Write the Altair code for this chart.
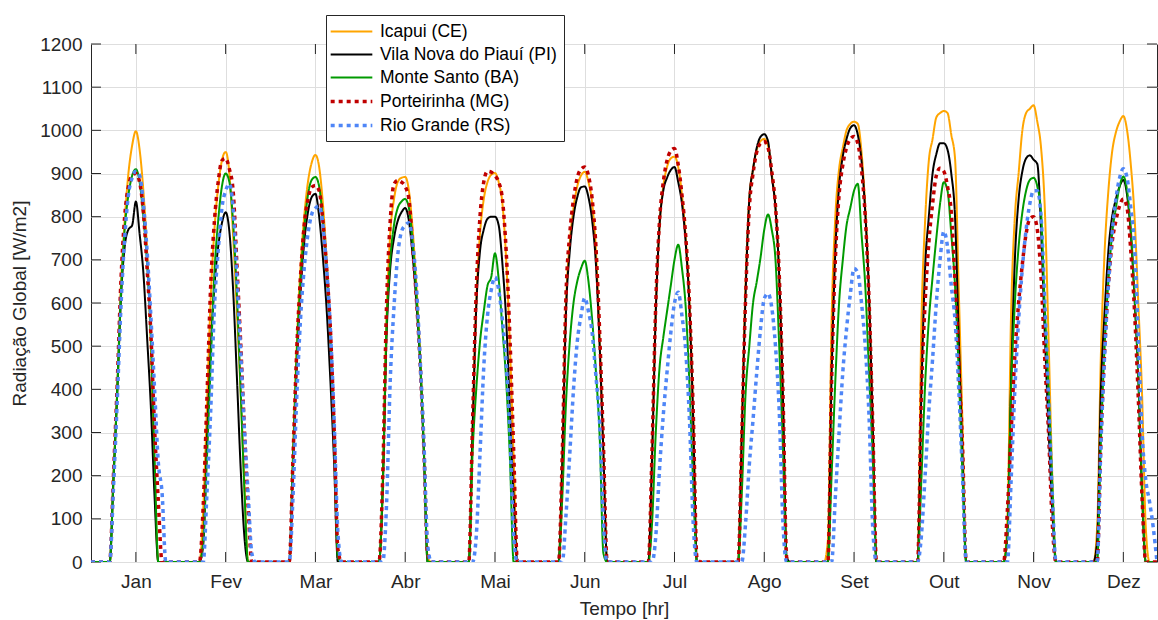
import altair as alt
import pandas as pd

months = ["Jan", "Fev", "Mar", "Abr", "Mai", "Jun", "Jul", "Ago", "Set", "Out", "Nov", "Dez"]
series_names = ["Icapui (CE)", "Vila Nova do Piauí (PI)", "Monte Santo (BA)",
                "Porteirinha (MG)", "Rio Grande (RS)"]
series_colors = ["#FFA500", "#000000", "#009A00", "#C00000", "#4F86F7"]
series_dash = [[1, 0], [1, 0], [1, 0], [4, 4], [4, 4]]
series_width = [2, 2, 2, 3.5, 3.5]

# hourly values of a typical day of each month, hours 5..20 (other hours = 0)
first_hour = 5
icapui = [
    [0, 200, 400, 640, 790, 900, 965, 998, 955, 860, 720, 500, 200, 0, 0, 0],
    [0, 120, 360, 610, 770, 870, 930, 950, 900, 755, 580, 395, 180, 0, 0, 0],
    [0, 250, 500, 680, 800, 880, 925, 943, 915, 830, 700, 540, 300, 20, 0, 0],
    [0, 180, 560, 760, 840, 880, 890, 892, 860, 770, 640, 480, 260, 10, 0, 0],
    [0, 300, 600, 760, 840, 880, 897, 901, 880, 830, 700, 500, 240, 0, 0, 0],
    [0, 240, 600, 740, 820, 870, 895, 904, 880, 830, 720, 510, 250, 0, 0, 0],
    [0, 250, 590, 780, 870, 915, 935, 939, 915, 850, 750, 600, 340, 0, 0, 0],
    [0, 320, 640, 840, 910, 955, 975, 980, 965, 900, 820, 660, 380, 0, 0, 0],
    [50, 560, 800, 910, 960, 1000, 1015, 1020, 1015, 950, 820, 620, 320, 0, 0, 0],
    [0, 550, 790, 930, 980, 1030, 1040, 1045, 1040, 990, 935, 630, 320, 0, 0, 0],
    [100, 580, 800, 900, 1000, 1040, 1050, 1058, 1020, 960, 820, 520, 200, 0, 0, 0],
    [80, 480, 720, 860, 950, 995, 1020, 1033, 1000, 920, 800, 600, 390, 80, 0, 0],
]
vila_nova = [
    [0, 190, 390, 610, 730, 770, 780, 835, 760, 670, 520, 360, 150, 0, 0, 0],
    [0, 40, 280, 490, 640, 730, 785, 810, 765, 630, 430, 220, 60, 0, 0, 0],
    [0, 220, 450, 620, 740, 810, 845, 853, 800, 705, 585, 420, 230, 0, 0, 0],
    [0, 170, 520, 680, 750, 790, 810, 820, 790, 710, 600, 460, 250, 0, 0, 0],
    [0, 300, 590, 720, 770, 795, 800, 800, 780, 690, 560, 350, 150, 0, 0, 0],
    [0, 230, 580, 720, 800, 845, 868, 870, 845, 790, 690, 500, 250, 0, 0, 0],
    [0, 240, 580, 780, 860, 890, 908, 915, 880, 830, 740, 590, 330, 0, 0, 0],
    [0, 300, 620, 840, 910, 960, 985, 991, 975, 895, 820, 660, 380, 10, 0, 0],
    [0, 430, 720, 870, 940, 980, 1005, 1012, 990, 930, 810, 620, 320, 0, 0, 0],
    [0, 390, 680, 800, 900, 945, 970, 970, 955, 900, 800, 520, 240, 0, 0, 0],
    [60, 420, 700, 840, 905, 935, 942, 932, 922, 770, 530, 310, 120, 0, 0, 0],
    [50, 400, 580, 720, 800, 840, 870, 885, 850, 760, 610, 430, 160, 0, 0, 0],
]
monte_santo = [
    [0, 190, 390, 620, 770, 850, 895, 910, 880, 800, 690, 520, 240, 0, 0, 0],
    [0, 50, 240, 460, 670, 790, 870, 900, 880, 785, 620, 400, 170, 0, 0, 0],
    [0, 240, 480, 650, 770, 850, 885, 892, 870, 790, 670, 520, 290, 10, 0, 0],
    [0, 180, 540, 700, 780, 820, 835, 841, 820, 740, 620, 470, 260, 0, 0, 0],
    [0, 250, 400, 510, 580, 640, 660, 715, 655, 540, 420, 240, 0, 0, 0, 0],
    [0, 150, 370, 510, 600, 650, 680, 698, 650, 560, 440, 290, 20, 0, 0, 0],
    [0, 90, 300, 450, 520, 580, 640, 700, 735, 680, 590, 410, 180, 0, 0, 0],
    [0, 160, 390, 500, 600, 650, 705, 770, 805, 770, 700, 500, 260, 0, 0, 0],
    [0, 200, 420, 600, 700, 780, 820, 860, 876, 760, 640, 440, 240, 0, 0, 0],
    [0, 190, 410, 560, 660, 750, 830, 880, 860, 760, 640, 440, 200, 0, 0, 0],
    [60, 400, 600, 730, 810, 860, 885, 890, 870, 810, 590, 400, 180, 0, 0, 0],
    [0, 280, 500, 650, 760, 820, 870, 893, 860, 770, 620, 430, 170, 0, 0, 0],
]
porteirinha = [
    [0, 200, 410, 650, 800, 870, 895, 900, 880, 810, 680, 530, 310, 140, 0, 0],
    [0, 130, 380, 640, 790, 880, 930, 935, 910, 860, 690, 510, 310, 130, 0, 0],
    [0, 240, 490, 660, 780, 840, 868, 872, 860, 790, 680, 540, 310, 30, 0, 0],
    [0, 200, 590, 790, 875, 884, 880, 870, 840, 730, 610, 460, 260, 20, 0, 0],
    [0, 320, 630, 800, 880, 905, 903, 895, 880, 840, 720, 520, 260, 0, 0, 0],
    [0, 250, 620, 760, 840, 890, 910, 915, 895, 840, 730, 530, 270, 0, 0, 0],
    [0, 260, 600, 790, 880, 930, 952, 958, 920, 850, 755, 600, 350, 10, 0, 0],
    [0, 290, 610, 820, 900, 950, 970, 974, 960, 905, 825, 665, 390, 10, 0, 0],
    [0, 420, 700, 850, 920, 960, 980, 986, 970, 910, 800, 610, 320, 0, 0, 0],
    [0, 390, 600, 740, 830, 895, 912, 905, 870, 810, 650, 460, 270, 0, 0, 0],
    [120, 300, 480, 600, 690, 760, 795, 800, 770, 660, 470, 300, 90, 0, 0, 0],
    [0, 280, 490, 640, 740, 790, 825, 841, 820, 720, 580, 380, 150, 0, 0, 0],
]
rio_grande = [
    [0, 170, 370, 590, 750, 850, 890, 905, 895, 830, 720, 570, 400, 230, 160, 0],
    [0, 0, 160, 350, 590, 720, 820, 860, 876, 820, 660, 490, 310, 160, 20, 0],
    [0, 150, 380, 560, 680, 760, 805, 820, 825, 780, 680, 540, 330, 70, 0, 0],
    [0, 0, 130, 420, 590, 710, 765, 780, 786, 740, 640, 470, 280, 40, 0, 0],
    [0, 0, 60, 250, 450, 570, 630, 660, 630, 560, 460, 300, 60, 0, 0, 0],
    [0, 0, 110, 250, 400, 510, 570, 612, 580, 530, 430, 320, 90, 0, 0, 0],
    [0, 0, 60, 215, 340, 440, 530, 600, 625, 570, 490, 330, 90, 0, 0, 0],
    [0, 0, 90, 225, 330, 440, 540, 610, 622, 590, 500, 350, 90, 0, 0, 0],
    [0, 0, 150, 300, 440, 540, 620, 680, 670, 600, 500, 340, 80, 0, 0, 0],
    [0, 60, 200, 350, 470, 600, 700, 766, 730, 640, 560, 400, 200, 0, 0, 0],
    [0, 190, 400, 560, 680, 770, 830, 860, 860, 800, 600, 380, 160, 0, 0, 0],
    [0, 270, 480, 640, 760, 840, 890, 911, 890, 820, 730, 520, 300, 190, 140, 80],
]
all_series = [icapui, vila_nova, monte_santo, porteirinha, rio_grande]

y_ticks = list(range(0, 1201, 100))
x_max = 285
month_ticks = [24 * i + 12 for i in range(len(months))]

rows = []
for name, data in zip(series_names, all_series):
    for m, day in enumerate(data):
        for h in range(24):
            t = m * 24 + h
            if t > x_max:
                continue
            k = h - first_hour
            v = day[k] if 0 <= k < len(day) else 0
            rows.append({"t": t, "v": v, "serie": name})
df = pd.DataFrame(rows)

W, H = 1066, 518
FONT = "Liberation Sans"
AX = "#262626"

label_expr = "[" + ",".join('"%s"' % m for m in months) + "][floor(datum.value / 24)]"

x_enc = alt.X("t:Q", scale=alt.Scale(domain=[0, x_max], nice=False, zero=False),
              axis=alt.Axis(values=month_ticks, labelExpr=label_expr, title="Tempo [hr]",
                            grid=True, ticks=False, tickSize=0, domain=False,
                            labelPadding=10, titlePadding=8, labelFlush=False))
y_enc = alt.Y("v:Q", scale=alt.Scale(domain=[0, 1200], nice=False),
              axis=alt.Axis(values=y_ticks, format="d", title="Radiação Global [W/m2]",
                            grid=True, ticks=False, tickSize=0, domain=False,
                            labelPadding=9, titlePadding=10))

legend = alt.Legend(title=None, orient="none", legendX=235, legendY=-29,
                    fillColor="white", strokeColor=AX, padding=7,
                    symbolType="M-2.45,0H2.45", symbolSize=289, symbolOffset=8,
                    labelOffset=18, labelFontSize=17.5,
                    labelFont=FONT, labelColor="#000000", labelLimit=0, rowPadding=5)

color_enc = alt.Color("serie:N", scale=alt.Scale(domain=series_names, range=series_colors), legend=legend)
dash_enc = alt.StrokeDash("serie:N", scale=alt.Scale(domain=series_names, range=series_dash), legend=legend)
width_enc = alt.StrokeWidth("serie:N", scale=alt.Scale(type="ordinal", domain=series_names, range=series_width),
                            legend=legend)

base = alt.Chart(df)
line_layers = []
for name in series_names:
    line_layers.append(
        base.transform_filter(alt.datum.serie == name)
        .mark_line(interpolate="monotone", clip=True, strokeCap="butt")
        .encode(x=x_enc, y=y_enc, color=color_enc, strokeDash=dash_enc, strokeWidth=width_enc)
    )

ydf = pd.DataFrame({"v": y_ticks})
xdf = pd.DataFrame({"t": month_ticks})
tick_style = dict(color=AX, strokeWidth=1)
left_ticks = alt.Chart(ydf).mark_rule(**tick_style).encode(y=alt.Y("v:Q"), x=alt.value(0), x2=alt.value(10))
right_ticks = alt.Chart(ydf).mark_rule(**tick_style).encode(y=alt.Y("v:Q"), x=alt.value(W - 10), x2=alt.value(W))
bottom_ticks = alt.Chart(xdf).mark_rule(**tick_style).encode(x=alt.X("t:Q"), y=alt.value(H - 10), y2=alt.value(H))
top_ticks = alt.Chart(xdf).mark_rule(**tick_style).encode(x=alt.X("t:Q"), y=alt.value(0), y2=alt.value(10))

chart = alt.layer(left_ticks, right_ticks, bottom_ticks, top_ticks, *line_layers).properties(
    width=W, height=H,
    autosize=alt.AutoSizeParams(type="none"),
    padding={"left": 91, "top": 44, "right": 1, "bottom": 58},
    background="white",
).configure_view(
    stroke=AX, strokeWidth=1
).configure_axis(
    labelFont=FONT, labelFontSize=19, labelColor=AX,
    titleFont=FONT, titleFontSize=19, titleColor=AX, titleFontWeight="normal",
    gridColor="#dedede", gridWidth=1,
)

chart.save("out.html", embed_options={"renderer": "svg", "actions": False})
